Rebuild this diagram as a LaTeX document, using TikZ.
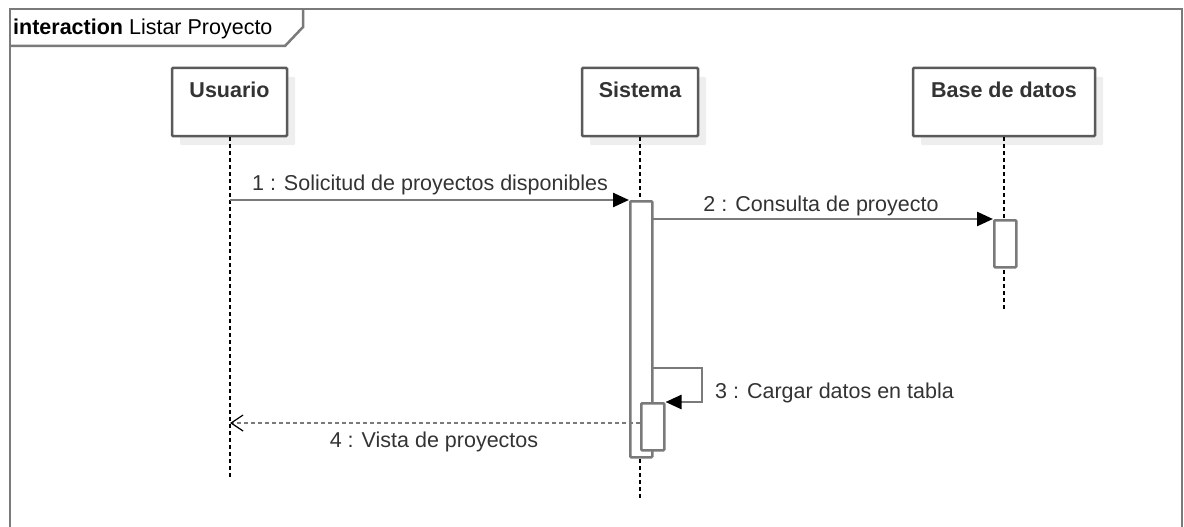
\documentclass[tikz,border=0pt]{standalone}
\usepackage{fontspec}
\setmainfont{Liberation Sans}
\usetikzlibrary{arrows.meta,shadows}
\definecolor{linegray}{HTML}{7A7A7A}
\definecolor{boxgray}{HTML}{5A5A5A}
\definecolor{txtgray}{HTML}{333333}
\definecolor{shadowgray}{HTML}{EEEEEE}
\tikzset{
  basefont/.style={font=\fontsize{21.5}{26}\selectfont},
  actorbox/.style={draw=boxgray, line width=2.5pt, fill=white, inner sep=0pt, rounded corners=1pt,
    drop shadow={shadow xshift=8pt, shadow yshift=-9pt, fill=shadowgray, opacity=1}},
  actortext/.style={font=\fontsize{21.5}{26}\selectfont\bfseries, text=txtgray, anchor=base, inner sep=0pt},
  lifeline/.style={draw=black, line width=1.5pt, dash pattern=on 4pt off 3pt},
  activation/.style={draw=linegray, line width=2.5pt, fill=white, rounded corners=1pt},
  msg/.style={draw=linegray, line width=2.5pt, -{Triangle[length=16pt,width=14pt,fill=black,color=black]}},
  reply/.style={draw=linegray, line width=2.5pt, dash pattern=on 4pt off 3pt, -{Straight Barb[length=12pt,width=16pt,line width=1.2pt,color=black]}},
  msglabel/.style={basefont, text=txtgray, anchor=base, inner sep=0pt}
}
\begin{document}
\begin{tikzpicture}[x=1pt,y=-1pt]
\useasboundingbox (0,0) rectangle (1184,527);
% frame
\draw[draw=linegray, line width=2.5pt] (10,540) -- (10,9) -- (1182,9) -- (1182,540);
\draw[draw=linegray, line width=2.5pt] (10,46) -- (285,46) -- (303,27) -- (303,9);
\node[basefont, anchor=base west, inner sep=0pt] (title) at (13,35) {\textbf{interaction} Listar Proyecto};

% actor boxes
\node[actorbox, minimum width=115pt, minimum height=68pt] (u) at (229.5,102) {};
\node[actorbox, minimum width=116pt, minimum height=68pt] (s) at (640,102) {};
\node[actorbox, minimum width=182pt, minimum height=68pt] (b) at (1004,102) {};
\node[actortext] (ut) at (229.5,97) {Usuario};
\node[actortext] (st) at (640,97) {Sistema};
\node[actortext] (bt) at (1004,97) {Base de datos};

% lifeline ends
\coordinate (uend) at (230,478);
\coordinate (send) at (640,499);
\coordinate (bend) at (1004,312);
\draw[lifeline] (u.south -| uend) -- (uend);
\draw[lifeline] (s.south) -- (send);
\draw[lifeline] (b.south) -- (bend);

% activations
\node[activation, minimum width=22pt, minimum height=256pt, inner sep=0pt, anchor=north west] (a1) at (629,200) {};
\node[activation, minimum width=22pt, minimum height=47pt, inner sep=0pt, anchor=north west] (a2) at (993,219) {};
\node[activation, minimum width=23pt, minimum height=47pt, inner sep=0pt, anchor=north west] (a3) at (640,402) {};

% message 1
\coordinate (m1s) at (230,200);
\draw[msg] (m1s) -- (a1.north west);
\node[msglabel] (l1) at (430,190) {1 : Solicitud de proyectos disponibles};
% message 2
\coordinate (m2s) at (651,219);
\draw[msg] (m2s) -- (a2.north west);
\node[msglabel] (l2) at (821,211) {2 : Consulta de proyecto};
% message 3 (self)
\coordinate (m3s) at (651,368);
\coordinate (m3c) at (702,368);
\draw[msg] (m3s) -- (m3c) |- (a3.north east);
\node[msglabel, anchor=base west] (l3) at (715,398) {3 : Cargar datos en tabla};
% message 4 (reply)
\coordinate (m4s) at (640,423);
\coordinate (m4e) at (230,423);
\draw[reply] (m4s) -- (m4e);
\node[msglabel] (l4) at (434,447) {4 : Vista de proyectos};
\end{tikzpicture}
\end{document}
